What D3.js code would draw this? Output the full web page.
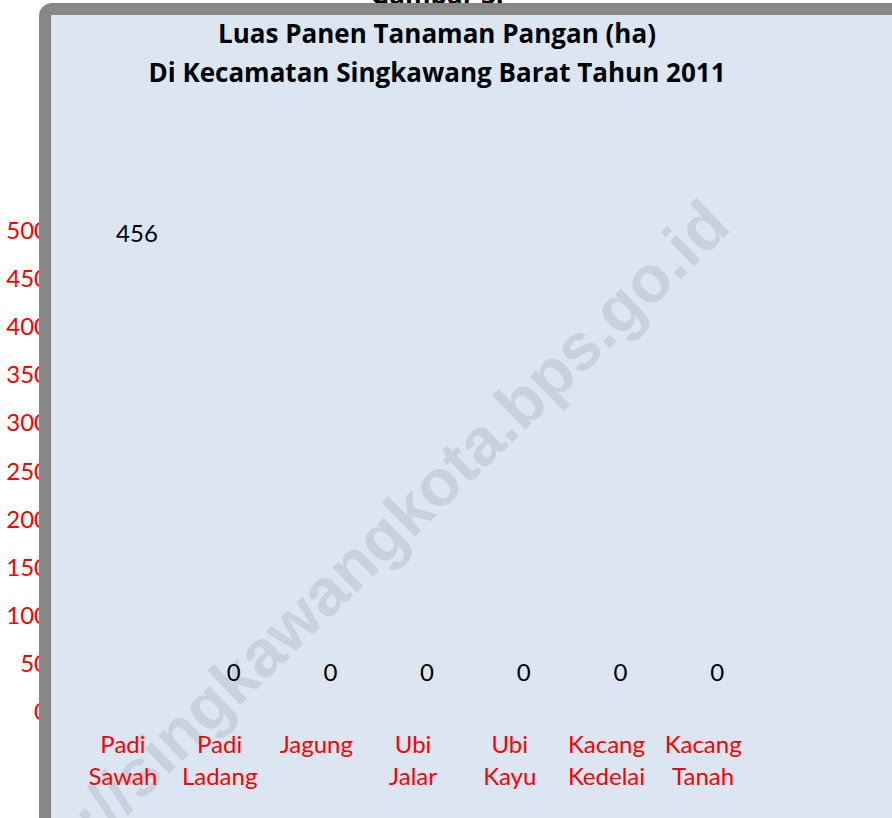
<!DOCTYPE html>
<html>
<head>
<meta charset="utf-8">
<script src="https://cdn.jsdelivr.net/npm/d3@7"></script>
<style>
  body { margin: 0; background: #fff; }
  svg { display: block; font-family: Lato, "Open Sans", sans-serif; }
</style>
</head>
<body>
<div id="chart"></div>
<script>
// luas panen per jenis tanaman (ha)
var categories = [["Padi", "Sawah"], ["Padi", "Ladang"], ["Jagung"], ["Ubi", "Jalar"], ["Ubi", "Kayu"], ["Kacang", "Kedelai"], ["Kacang", "Tanah"]];
var values = [456, 0, 0, 0, 0, 0, 0];
var yTicks = [0, 50, 100, 150, 200, 250, 300, 350, 400, 450, 500];
var titleLines = ["Gambar 3.", "Luas Panen Tanaman Pangan (ha)", "Di Kecamatan Singkawang Barat Tahun 2011"];
var watermark = "http://singkawangkota.bps.go.id";

var width = 892, height = 818;
var svg = d3.select("#chart").append("svg")
    .attr("width", width)
    .attr("height", height);

var x = d3.scaleBand()
    .domain(d3.range(categories.length))
    .range([74.6, 751.5]);

var y = d3.scaleLinear()
    .domain([0, 500])
    .range([712, 231]);

// y labels sit behind the panel, so they get clipped by it
svg.append("g")
    .selectAll("text")
    .data(yTicks)
    .join("text")
    .attr("x", 48)
    .attr("y", function (d) { return y(d) + 8; })
    .attr("text-anchor", "end")
    .attr("fill", "#ff0000")
    .attr("font-size", 24)
    .text(function (d) { return d; });

// title line that hides under the top border
svg.append("text")
    .attr("x", 437)
    .attr("y", 4)
    .attr("text-anchor", "middle")
    .attr("font-family", "'Open Sans', sans-serif")
    .attr("font-weight", "bold")
    .attr("font-size", 26)
    .text(titleLines[0]);

// panel
svg.append("rect")
    .attr("x", 45)
    .attr("y", 9)
    .attr("width", 900)
    .attr("height", 900)
    .attr("rx", 7)
    .attr("fill", "#dce6f2")
    .attr("stroke", "#878787")
    .attr("stroke-width", 12);

// watermark
svg.append("text")
    .attr("transform", "translate(733,229) rotate(-44)")
    .attr("text-anchor", "end")
    .attr("font-family", "'Liberation Sans', Arial, sans-serif")
    .attr("font-weight", "bold")
    .attr("font-size", 66)
    .attr("fill", "#c8d2de")
    .text(watermark);

svg.append("g")
    .selectAll("text")
    .data(titleLines.slice(1))
    .join("text")
    .attr("x", 437)
    .attr("y", function (d, i) { return 43 + i * 39; })
    .attr("text-anchor", "middle")
    .attr("font-family", "'Open Sans', sans-serif")
    .attr("font-weight", "bold")
    .attr("font-size", 26)
    .attr("fill", "#000")
    .text(function (d) { return d; });

// value labels, shifted right of the category centre
svg.append("g")
    .selectAll("text")
    .data(values)
    .join("text")
    .attr("x", function (d, i) { return x(i) + x.bandwidth() / 2 + 14; })
    .attr("y", function (d) { return y(d) - 31; })
    .attr("text-anchor", "middle")
    .attr("font-size", 24)
    .attr("fill", "#000")
    .text(function (d) { return d; });

// category labels
var cat = svg.append("g")
    .selectAll("text")
    .data(categories)
    .join("text")
    .attr("text-anchor", "middle")
    .attr("font-size", 24)
    .attr("fill", "#ff0000");

cat.selectAll("tspan")
    .data(function (d, i) { return d.map(function (s) { return { s: s, i: i }; }); })
    .join("tspan")
    .attr("x", function (d) { return x(d.i) + x.bandwidth() / 2; })
    .attr("y", function (d, j) { return 753 + j * 32; })
    .text(function (d) { return d.s; });
</script>
</body>
</html>
